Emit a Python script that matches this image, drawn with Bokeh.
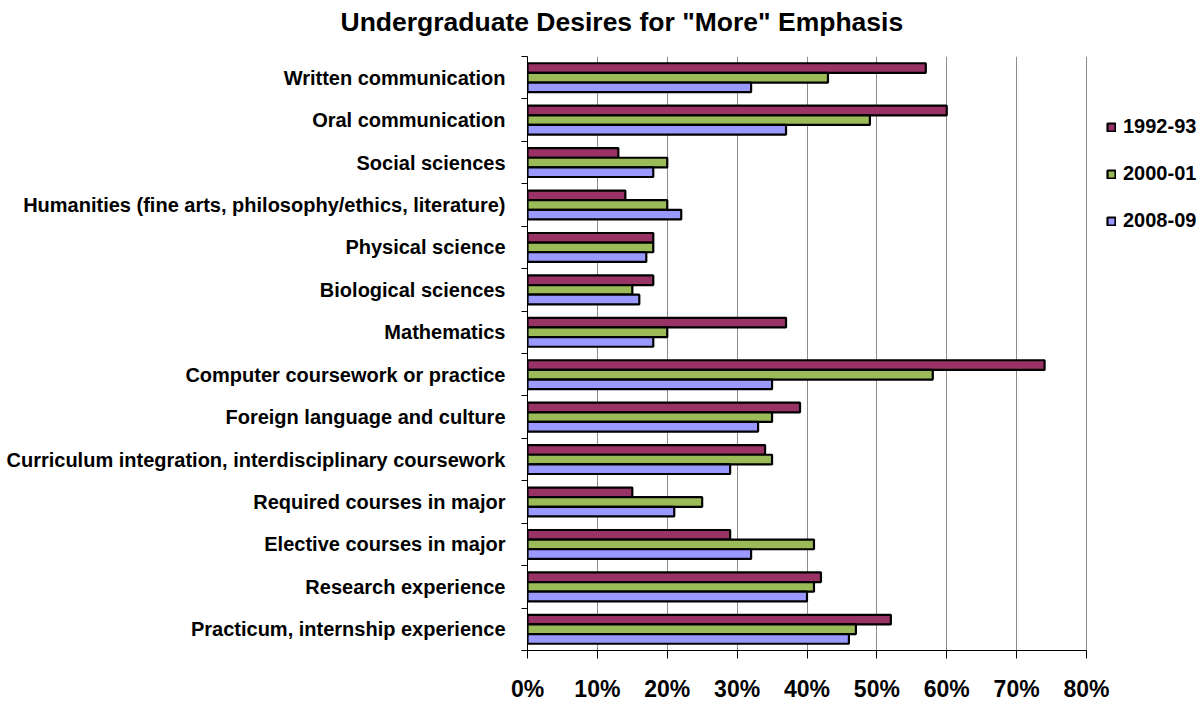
from bokeh.plotting import figure
from bokeh.models import (FixedTicker, Legend, LegendItem, LinearAxis, Grid, Title,
                          PrintfTickFormatter, Range1d, ColumnDataSource)
from bokeh.embed import file_html
from bokeh.resources import INLINE

categories = [
    "Written communication",
    "Oral communication",
    "Social sciences",
    "Humanities (fine arts, philosophy/ethics, literature)",
    "Physical science",
    "Biological sciences",
    "Mathematics",
    "Computer coursework or practice",
    "Foreign language and culture",
    "Curriculum integration, interdisciplinary coursework",
    "Required courses in major",
    "Elective courses in major",
    "Research experience",
    "Practicum, internship experience",
]
series_names = ["1992-93", "2000-01", "2008-09"]
v1992 = [57, 60, 13, 14, 18, 18, 37, 74, 39, 34, 15, 29, 42, 52]
v2000 = [43, 49, 20, 20, 18, 15, 20, 58, 35, 35, 25, 41, 41, 47]
v2008 = [32, 37, 18, 22, 17, 16, 18, 35, 33, 29, 21, 32, 40, 46]
x_ticks = [0, 10, 20, 30, 40, 50, 60, 70, 80]
title_text = 'Undergraduate Desires for "More" Emphasis'

colors = ["#993366", "#9BBB59", "#9999FF"]
FONT = "Liberation Sans"

n = len(categories)
centers = [n - i - 0.5 for i in range(n)]
bounds = list(range(n + 1))

# layout: axis spans 0..80 over 559 px; frame extends further right to host the legend
W, H = 1204, 704
LEFT, RIGHT_PAD = 527, 2
AXIS_PX = 559
x_end = x_ticks[-1] * (W - RIGHT_PAD - LEFT) / AXIS_PX

p = figure(width=W, height=H, output_backend="svg", toolbar_location=None,
           x_range=Range1d(0, x_end), y_range=Range1d(0, n),
           min_border_left=LEFT, min_border_right=RIGHT_PAD, min_border_top=55,
           min_border_bottom=51, x_axis_location=None, y_axis_location=None)
p.outline_line_color = None
p.background_fill_color = "white"
p.border_fill_color = "white"

p.title.text = title_text
p.title.align = "left"
p.title.offset = -187
p.title.text_font = FONT
p.title.text_font_style = "bold"
p.title.text_font_size = "26.5px"
p.title.text_color = "black"
p.title.vertical_align = "middle"

# spacer between title and frame
p.add_layout(Title(text=" ", text_font_size="2px", standoff=10), "above")

# x axis
xaxis = LinearAxis(ticker=FixedTicker(ticks=x_ticks, minor_ticks=[]),
                   formatter=PrintfTickFormatter(format="%d%%"),
                   bounds=(x_ticks[0], x_ticks[-1]))
xaxis.axis_line_color = "black"
xaxis.axis_line_width = 1
xaxis.major_tick_line_color = "black"
xaxis.major_tick_out = 8
xaxis.major_tick_in = 0
xaxis.minor_tick_line_color = None
xaxis.major_label_text_font = FONT
xaxis.major_label_text_font_style = "bold"
xaxis.major_label_text_font_size = "23px"
xaxis.major_label_text_color = "black"
xaxis.major_label_standoff = 17
p.add_layout(xaxis, "below")

# y axis
yaxis = LinearAxis(ticker=FixedTicker(ticks=centers, minor_ticks=bounds))
yaxis.major_label_overrides = {c: name for c, name in zip(centers, categories)}
yaxis.axis_line_color = "black"
yaxis.major_tick_line_color = None
yaxis.major_tick_out = 0
yaxis.major_tick_in = 0
yaxis.minor_tick_line_color = "black"
yaxis.minor_tick_out = 6
yaxis.minor_tick_in = 0
yaxis.major_label_text_font = FONT
yaxis.major_label_text_font_style = "bold"
yaxis.major_label_text_font_size = "20px"
yaxis.major_label_text_color = "black"
yaxis.major_label_standoff = 16
p.add_layout(yaxis, "left")

p.xgrid.grid_line_color = None
p.ygrid.grid_line_color = None
p.add_layout(Grid(dimension=0, ticker=xaxis.ticker, grid_line_color="#8c8c8c",
                  grid_line_width=1, bounds=(x_ticks[0], x_ticks[-1])))

bar_h = 0.227
offsets = [bar_h, 0.0, -bar_h]
renderers = []
for vals, col, off in zip([v1992, v2000, v2008], colors, offsets):
    src = ColumnDataSource(dict(y=[c + off for c in centers], right=vals))
    r = p.hbar(y="y", left=0, right="right", height=bar_h, source=src,
               fill_color=col, line_color="black", line_width=2.2)
    renderers.append(r)

legend = Legend(items=[LegendItem(label=nm, renderers=[r])
                       for nm, r in zip(series_names, renderers)],
                location=(579, 418))
legend.label_text_font = FONT
legend.label_text_font_style = "bold"
legend.label_text_font_size = "20px"
legend.label_text_color = "black"
legend.glyph_width = 10
legend.glyph_height = 10
legend.label_standoff = 7
legend.label_height = 20
legend.spacing = 24
legend.padding = 0
legend.margin = 0
legend.border_line_color = None
legend.background_fill_alpha = 0
p.add_layout(legend, "center")

open("out.html", "w").write(file_html(p, INLINE))
